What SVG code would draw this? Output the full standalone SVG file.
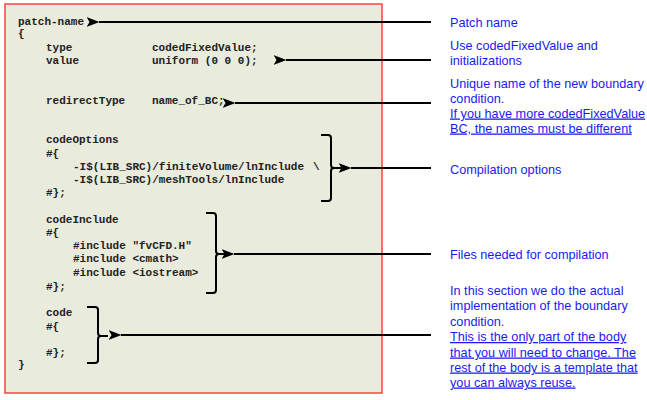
<svg xmlns="http://www.w3.org/2000/svg" width="647" height="400" viewBox="0 0 647 400">
<defs>
<marker id="ah" markerWidth="13" markerHeight="10" refX="0.5" refY="5" orient="auto-start-reverse" markerUnits="userSpaceOnUse">
<path d="M0,5 L13,0 L10,5 L13,10 Z" fill="#000"/>
</marker>
<style>
.code{font-family:"Liberation Mono","Courier New",monospace;font-weight:bold;font-size:11px;fill:#222}
.note{font-family:"Liberation Sans",Arial,Helvetica,sans-serif;font-size:12.7px;fill:#1a1af5}
.ul{text-decoration:underline}
.conn{stroke:#000;stroke-width:2;fill:none}
.brace{stroke:#000;stroke-width:2;fill:none;stroke-linejoin:round}
</style>
</defs>
<rect width="647" height="400" fill="#fff"/>
<g id="codebox">
<rect x="5" y="4" width="377" height="389" fill="#e9ebdc" stroke="#ff4040" stroke-width="1.5"/>
<text class="code" x="18" y="25">patch-name</text>
<text class="code" x="18" y="37">{</text>
<text class="code" x="46" y="51">type</text>
<text class="code" x="152" y="51">codedFixedValue;</text>
<text class="code" x="46" y="64">value</text>
<text class="code" x="152" y="64">uniform (0 0 0);</text>
<text class="code" x="46" y="104">redirectType</text>
<text class="code" x="152" y="104">name_of_BC;</text>
<text class="code" x="46" y="143">codeOptions</text>
<text class="code" x="46" y="157">#{</text>
<text class="code" x="73" y="170">-I$(LIB_SRC)/finiteVolume/lnInclude</text>
<text class="code" x="313" y="170">\</text>
<text class="code" x="73" y="183">-I$(LIB_SRC)/meshTools/lnInclude</text>
<text class="code" x="46" y="196">#};</text>
<text class="code" x="46" y="223">codeInclude</text>
<text class="code" x="46" y="236">#{</text>
<text class="code" x="73" y="249">#include "fvCFD.H"</text>
<text class="code" x="73" y="262">#include &lt;cmath&gt;</text>
<text class="code" x="73" y="276">#include &lt;iostream&gt;</text>
<text class="code" x="46" y="290">#};</text>
<text class="code" x="46" y="316">code</text>
<text class="code" x="46" y="330">#{</text>
<text class="code" x="46" y="356">#};</text>
<text class="code" x="18" y="368">}</text>
</g>
<g id="braces">
<path class="brace" d="M321,135 h7 q3,0 3,3 v27 q0,3 3,3 h8 M334,168 q-3,0 -3,3 v27 q0,3 -3,3 h-7"/>
<path class="brace" d="M206,213 h7 q3,0 3,3 v35 q0,3 3,3 h8 M219,254 q-3,0 -3,3 v33 q0,3 -3,3 h-7"/>
<path class="brace" d="M87,307 h8 q3,0 3,3 v23 q0,3 3,3 h7 M101,336 q-3,0 -3,3 v21 q0,3 -3,3 h-8"/>
</g>
<g id="connectors">
<line class="conn" x1="431" y1="22" x2="99" y2="22" marker-end="url(#ah)"/>
<line class="conn" x1="431" y1="60" x2="286" y2="60" marker-end="url(#ah)"/>
<line class="conn" x1="431" y1="103" x2="235" y2="103" marker-end="url(#ah)"/>
<line class="conn" x1="431" y1="168" x2="351" y2="168" marker-end="url(#ah)"/>
<line class="conn" x1="431" y1="254" x2="234" y2="254" marker-end="url(#ah)"/>
<line class="conn" x1="431" y1="335" x2="121" y2="335" marker-end="url(#ah)"/>
</g>
<g id="note-patch">
<text class="note" x="450" y="26.5">Patch name</text>
</g>
<g id="note-type">
<text class="note" x="450" y="49.5">Use codedFixedValue and</text>
<text class="note" x="450" y="64.5">initializations</text>
</g>
<g id="note-redirect">
<text class="note" x="450" y="87.5">Unique name of the new boundary</text>
<text class="note" x="450" y="102.5">condition.</text>
<text class="note ul" x="450" y="117.5">If you have more codedFixedValue</text>
<text class="note ul" x="450" y="132.5">BC, the names must be different</text>
</g>
<g id="note-options">
<text class="note" x="450" y="173.5">Compilation options</text>
</g>
<g id="note-include">
<text class="note" x="450" y="258.5">Files needed for compilation</text>
</g>
<g id="note-code">
<text class="note" x="450" y="294.5">In this section we do the actual</text>
<text class="note" x="450" y="310">implementation of the boundary</text>
<text class="note" x="450" y="325.5">condition.</text>
<text class="note ul" x="450" y="341">This is the only part of the body</text>
<text class="note ul" x="450" y="356.5">that you will need to change. The</text>
<text class="note ul" x="450" y="371.5">rest of the body is a template that</text>
<text class="note ul" x="450" y="386.5">you can always reuse.</text>
</g>
</svg>
